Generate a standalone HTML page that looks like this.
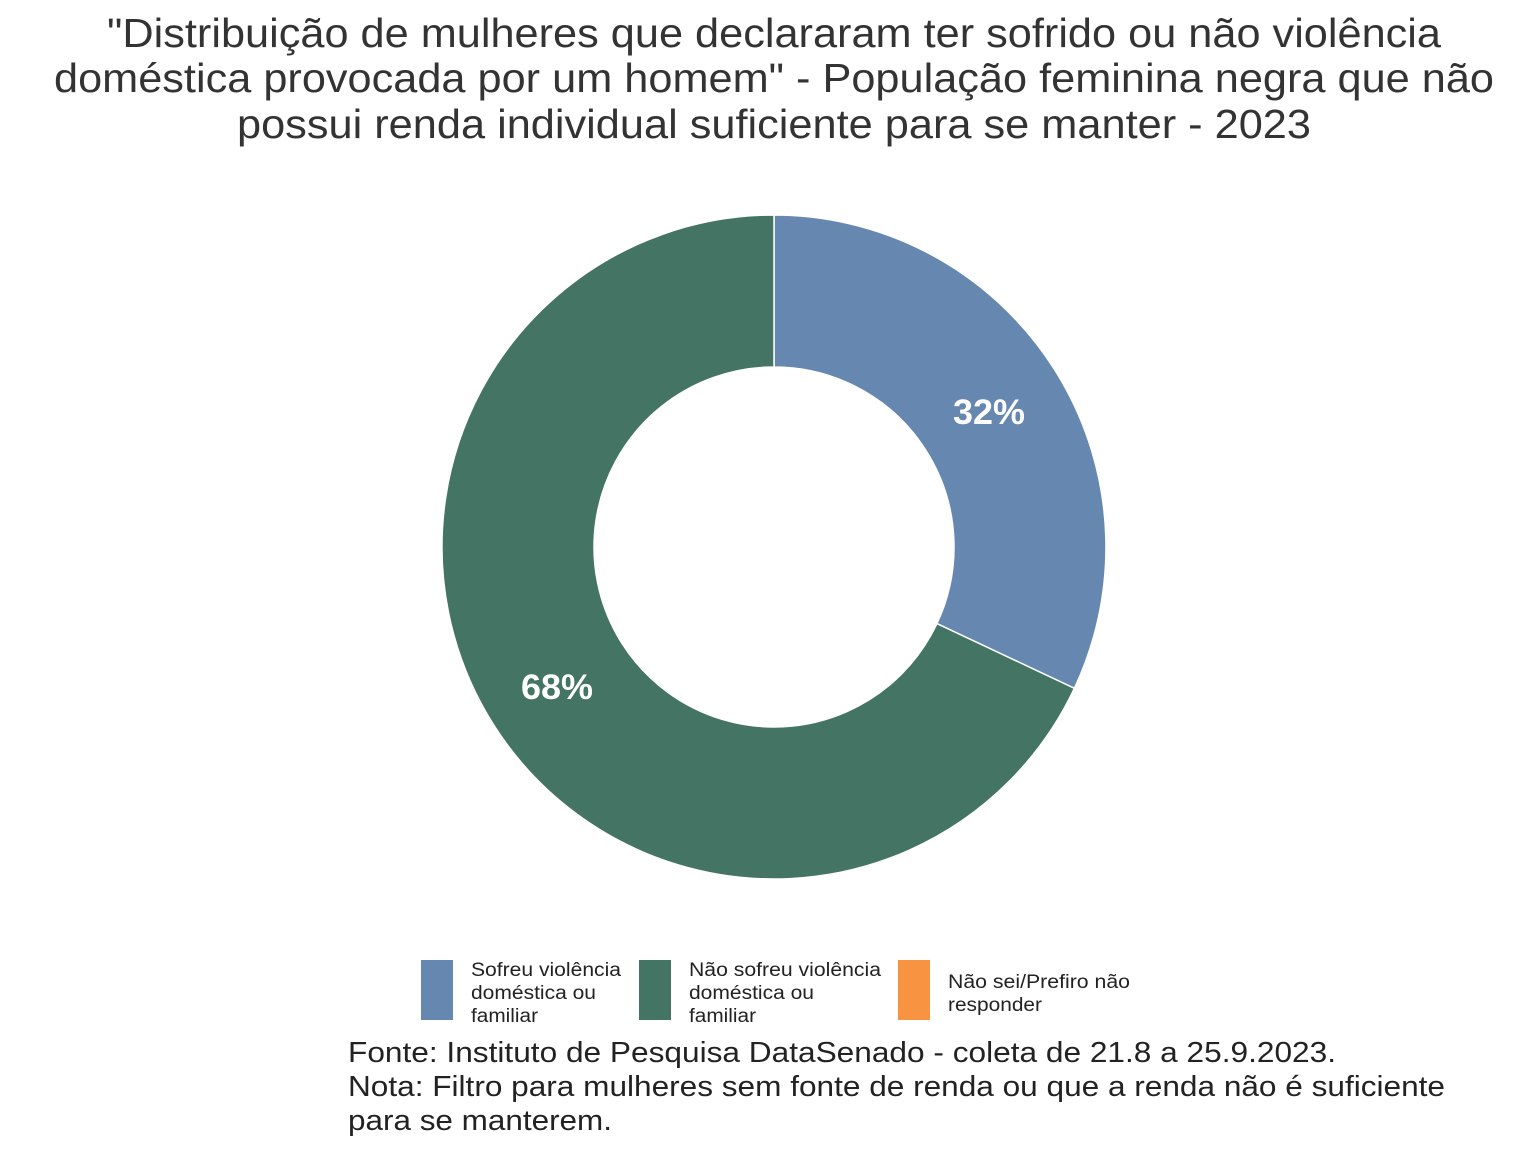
<!DOCTYPE html>
<html><head><meta charset="utf-8"><style>
body{margin:0;background:#fff}
svg{display:block}
text{font-family:"Liberation Sans",Arial,sans-serif}
</style></head><body>
<svg width="1536" height="1152" viewBox="0 0 1536 1152">
<g fill="#333" font-size="41" text-anchor="middle" lengthAdjust="spacingAndGlyphs">
<text x="774" y="47" textLength="1334" lengthAdjust="spacingAndGlyphs">"Distribuição de mulheres que declararam ter sofrido ou não violência</text>
<text x="774" y="92" textLength="1440" lengthAdjust="spacingAndGlyphs">doméstica provocada por um homem" - População feminina negra que não</text>
<text x="774" y="138" textLength="1074" lengthAdjust="spacingAndGlyphs">possui renda individual suficiente para se manter - 2023</text>
</g>
<path d="M774,215 A332,332 0 0 1 1074.4,688.3 L936.9,623.6 A180,180 0 0 0 774,367 Z" fill="#6587b0" stroke="#fff" stroke-width="1.5"/>
<path d="M1074.4,688.3 A332,332 0 1 1 774,215 L774,367 A180,180 0 1 0 936.9,623.6 Z" fill="#447463" stroke="#fff" stroke-width="1.5"/>
<g fill="#fff" font-size="35" font-weight="bold" text-anchor="middle">
<text x="989" y="424" textLength="72" lengthAdjust="spacingAndGlyphs">32%</text>
<text x="557" y="699" textLength="72" lengthAdjust="spacingAndGlyphs">68%</text>
</g>
<rect x="421" y="960" width="32" height="60" fill="#6587b0"/>
<rect x="639" y="960" width="32" height="60" fill="#447463"/>
<rect x="898" y="960" width="32" height="60" fill="#f89441"/>
<g fill="#222" font-size="19">
<text x="471" y="976" textLength="150" lengthAdjust="spacingAndGlyphs">Sofreu violência</text>
<text x="471" y="999" textLength="125" lengthAdjust="spacingAndGlyphs">doméstica ou</text>
<text x="471" y="1022" textLength="67" lengthAdjust="spacingAndGlyphs">familiar</text>
<text x="689" y="976" textLength="192" lengthAdjust="spacingAndGlyphs">Não sofreu violência</text>
<text x="689" y="999" textLength="125" lengthAdjust="spacingAndGlyphs">doméstica ou</text>
<text x="689" y="1022" textLength="67" lengthAdjust="spacingAndGlyphs">familiar</text>
<text x="948" y="988" textLength="182" lengthAdjust="spacingAndGlyphs">Não sei/Prefiro não</text>
<text x="948" y="1011" textLength="94" lengthAdjust="spacingAndGlyphs">responder</text>
</g>
<g fill="#222" font-size="29">
<text x="348" y="1062" textLength="988" lengthAdjust="spacingAndGlyphs">Fonte: Instituto de Pesquisa DataSenado - coleta de 21.8 a 25.9.2023.</text>
<text x="348" y="1096" textLength="1097" lengthAdjust="spacingAndGlyphs">Nota: Filtro para mulheres sem fonte de renda ou que a renda não é suficiente</text>
<text x="348" y="1130" textLength="264" lengthAdjust="spacingAndGlyphs">para se manterem.</text>
</g>
</svg>
</body></html>
